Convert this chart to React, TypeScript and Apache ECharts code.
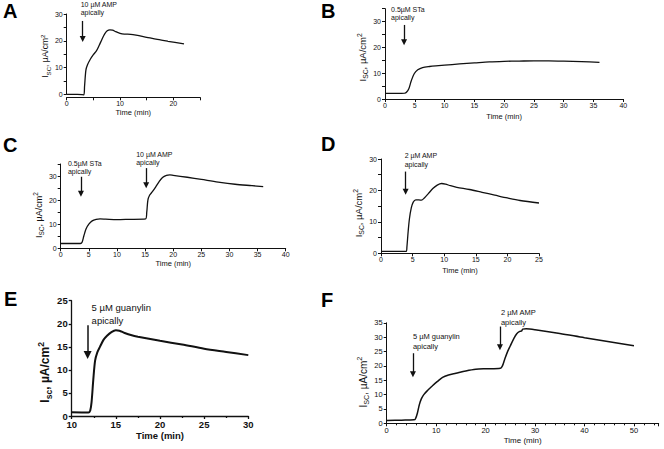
import React, { useEffect, useRef } from 'react';
import * as echarts from 'echarts';

// ---------- data (time in min, Isc in µA/cm²) ----------
const tA = [0, 2, 3.2, 3.35, 3.6, 3.9, 4.4, 5, 5.6, 6.1, 6.6, 7.1, 7.6, 8.1, 8.6, 9.2, 10, 10.8, 12, 13, 15, 17, 19, 22];
const iA = [0, 0, -0.2, 3, 9, 11, 13, 14.8, 16.3, 18.3, 20.5, 22.5, 23.7, 24.1, 24, 23.4, 22.8, 22.5, 22.4, 22.1, 21.3, 20.5, 19.8, 18.8];

const tB = [0, 2, 3.3, 3.6, 4, 4.4, 4.9, 5.5, 6.3, 7.5, 9, 10, 12.5, 15, 17.5, 20, 22.5, 25, 27.5, 30, 33, 36];
const iB = [2.2, 2.2, 2.3, 2.6, 4, 7, 9.8, 11.3, 12.2, 12.6, 12.9, 13.1, 13.6, 14, 14.4, 14.6, 14.7, 14.8, 14.8, 14.7, 14.5, 14.2];

const tC = [0, 3.5, 3.8, 4.1, 4.5, 5, 5.6, 6.3, 7, 8, 10, 12, 15.1, 15.3, 15.5, 15.8, 16.3, 16.9, 17.5, 18.1, 18.8, 19.4, 20, 22.5, 25, 28, 31, 34, 36];
const iC = [2, 2, 2.5, 5, 8, 10, 11.4, 12, 12.2, 12.1, 11.9, 12, 12.2, 15, 20, 22, 23.5, 25.5, 27.7, 29.4, 30.3, 30.5, 30.3, 29.5, 28.6, 27.5, 26.6, 26, 25.6];

const tD = [0, 3, 4, 4.1, 4.3, 4.5, 4.8, 5.1, 5.5, 6, 6.4, 6.9, 7.5, 8.2, 8.9, 9.6, 10.2, 11, 12, 14, 16, 18, 20, 22, 25];
const iD = [0.6, 0.6, 0.6, 2, 7, 11, 14.5, 16.3, 17, 17, 16.9, 17.7, 19, 20.6, 21.7, 22.2, 22, 21.5, 21, 20.3, 19.4, 18.5, 17.6, 16.8, 16];

const tE = [10, 11.9, 12.1, 12.25, 12.45, 12.65, 12.9, 13.2, 13.6, 14, 14.5, 15, 15.4, 16, 16.8, 17.5, 20, 22.5, 25, 27.5, 30];
const iE = [0.8, 0.75, 1.2, 3, 8, 12, 13.8, 15, 16.5, 17.4, 18.2, 18.6, 18.5, 18, 17.5, 17.2, 16.3, 15.5, 14.6, 13.9, 13.2];

const tF = [0, 3, 5.5, 5.8, 6.2, 6.6, 7, 7.5, 8.3, 9.2, 10.2, 11.3, 12.5, 14, 16, 18, 20, 23, 23.4, 23.8, 24.4, 25, 25.7, 26.3, 26.9, 27.3, 27.5, 28.2, 30, 35, 40, 45, 50];
const iF = [1, 1.1, 1.2, 1.5, 3.5, 6.5, 8.5, 10, 11.5, 13, 14.5, 16, 16.8, 17.4, 18.2, 18.8, 19, 19.2, 20, 22, 24.8, 27, 29.5, 31.2, 32, 32.2, 32.8, 32.9, 32.6, 31.3, 29.8, 28.4, 27];

// arrows: time of addition, arrow start / end value, label text
const notesA = [{ t: 3, top: 27.4, end: 20.7, text: '10 µM AMP\napically' }];
const notesB = [{ t: 3.2, top: 28.7, end: 22, text: '0.5µM STa\napically' }];
const notesC = [
  { t: 3.6, top: 29.7, end: 22.6, text: '0.5µM STa\napically' },
  { t: 15.2, top: 33.3, end: 26.2, text: '10 µM AMP\napically' },
];
const notesD = [{ t: 3.9, top: 26, end: 19.6, text: '2 µM AMP\napically' }];
const notesE = [{ t: 11.8, top: 19.7, end: 13.2, text: '5 µM guanylin\napically' }];
const notesF = [
  { t: 5.3, top: 24.4, end: 17.1, text: '5 µM guanylin\napically' },
  { t: 22.9, top: 33.7, end: 26.5, text: '2 µM AMP\napically' },
];

// ---------- layout / styles ----------
const SANS = "'Liberation Sans', Arial, sans-serif";
const NARROW = "'Liberation Sans Narrow', 'Liberation Sans', Arial, sans-serif";
const INK = '#111';

const styles: any = {
  small: { tick: 7, xname: 7.5, bold: 'normal', line: 1.3, axis: 1, note: 7, noteLH: 8.5, noteFont: NARROW, arrow: 6 },
  mid: { tick: 7.5, xname: 8, bold: 'normal', line: 1.5, axis: 1, note: 7.5, noteLH: 10, noteFont: NARROW, arrow: 6 },
  big: { tick: 9.5, xname: 9.5, bold: 'bold', line: 2, axis: 1.3, note: 9.5, noteLH: 13, noteFont: SANS, arrow: 8 },
};

const panels: any[] = [
  { t: tA, v: iA, notes: notesA, offs: [[-2, -4]], st: 'small', sub: 'SC',
    grid: { left: 66.7, top: 14, width: 133.3, height: 80.3 },
    x: { min: 0, max: 25, interval: 5, every: 10 }, y: { min: 0, max: 30, interval: 5, every: 10 },
    xOffset: 3, xGap: 10, yName: 8.5, yGap: 11.3, yShift: 2 },
  { t: tB, v: iB, notes: notesB, offs: [[-13, -3]], st: 'small', sub: 'SC',
    grid: { left: 385, top: 8.7, width: 238.3, height: 90.3 },
    x: { min: 0, max: 40, interval: 5, every: 5 }, y: { min: 0, max: 35, interval: 5, every: 10 },
    xOffset: 0, xGap: 13, yName: 9.5, yGap: 12, yShift: 3.5 },
  { t: tC, v: iC, notes: notesC, offs: [[-13, -1], [-10, -1]], st: 'small', sub: 'SC',
    grid: { left: 60.7, top: 164, width: 225, height: 84.3 },
    x: { min: 0, max: 40, interval: 5, every: 5 }, y: { min: 0, max: 35, interval: 5, every: 10 },
    xOffset: 0, xGap: 11, yName: 9, yGap: 9.5, yShift: 9 },
  { t: tD, v: iD, notes: notesD, offs: [[-1, -3]], st: 'small', sub: 'SC',
    grid: { left: 381, top: 159, width: 158, height: 94.3 },
    x: { min: 0, max: 25, interval: 5, every: 5 }, y: { min: 0, max: 30, interval: 5, every: 10 },
    xOffset: 0, xGap: 13, yName: 9.5, yGap: 12.3, yShift: 7 },
  { t: tE, v: iE, notes: notesE, offs: [[4, 2]], st: 'big', sub: 'sc',
    grid: { left: 71.7, top: 300.7, width: 176.6, height: 115.3 },
    x: { min: 10, max: 30, interval: 5, every: 5, minor: 2 }, y: { min: 0, max: 25, interval: 5, every: 5 },
    xOffset: 0, xGap: 14, yName: 12, yGap: 14.3, yShift: 14 },
  { t: tF, v: iF, notes: notesF, offs: [[0, -2], [1, 1]], st: 'mid', sub: 'SC',
    grid: { left: 386.7, top: 322.8, width: 272, height: 100.5 },
    x: { min: 0, max: 55, interval: 10, every: 10, minor: 5, hideMax: true }, y: { min: 0, max: 35, interval: 5, every: 5 },
    xOffset: 0, xGap: 13.5, yName: 10, yGap: 14.7, yShift: 9 },
];

const letters = [
  { text: 'A', x: 3, y: 1 },
  { text: 'B', x: 321, y: 1 },
  { text: 'C', x: 3, y: 135 },
  { text: 'D', x: 321, y: 134 },
  { text: 'E', x: 4, y: 289 },
  { text: 'F', x: 321, y: 290 },
];

function buildOption() {
  const grid: any[] = [];
  const xAxis: any[] = [];
  const yAxis: any[] = [];
  const series: any[] = [];

  panels.forEach((p, i) => {
    const s = styles[p.st];
    const nm = p.yName;
    const sb = Math.round(nm * 0.72 * 10) / 10;
    const lh = nm * 1.4;
    grid.push({ ...p.grid, containLabel: false, outerBoundsMode: 'none' });
    const axisLine = { show: true, onZero: false, lineStyle: { color: INK, width: s.axis } };
    const axisTick = { show: true, length: 3, lineStyle: { color: INK, width: s.axis } };
    const lbl = (every: number) => (v: number) => (Math.abs(v % every) < 1e-9 ? String(v) : '');
    xAxis.push({
      type: 'value', gridIndex: i, min: p.x.min, max: p.x.max, interval: p.x.interval,
      offset: p.xOffset, axisLine, axisTick,
      minorTick: p.x.minor ? { show: true, splitNumber: p.x.minor, length: 2, lineStyle: { color: INK, width: s.axis } } : { show: false },
      splitLine: { show: false },
      axisLabel: { fontSize: s.tick, fontWeight: s.bold, color: INK, fontFamily: SANS, margin: 3,
        formatter: lbl(p.x.every), showMaxLabel: p.x.hideMax ? false : null },
      name: 'Time (min)', nameLocation: 'middle', nameGap: p.xGap,
      nameTextStyle: { fontSize: s.xname, fontWeight: s.bold, color: INK, fontFamily: SANS },
    });
    yAxis.push({
      type: 'value', gridIndex: i, min: p.y.min, max: p.y.max, interval: p.y.interval,
      axisLine, axisTick, splitLine: { show: false },
      axisLabel: { fontSize: s.tick, fontWeight: s.bold, color: INK, fontFamily: SANS, margin: 4, formatter: lbl(p.y.every) },
      name: `{m|I}{s|${p.sub}}{m|, µA/cm}{p|2}`,
      nameLocation: 'middle', nameGap: p.yGap,
      nameTextStyle: {
        color: INK, fontFamily: SANS, fontWeight: s.bold, fontSize: nm,
        padding: [0, p.yShift * 2, 0, 0],
        rich: {
          m: { fontSize: nm, fontWeight: s.bold, fontFamily: SANS, color: INK, lineHeight: lh },
          s: { fontSize: sb, fontWeight: s.bold, fontFamily: SANS, color: INK, lineHeight: sb + 1, verticalAlign: 'bottom' },
          p: { fontSize: sb, fontWeight: s.bold, fontFamily: SANS, color: INK, lineHeight: sb + 1, verticalAlign: 'top' },
        },
      },
    });
    series.push({
      type: 'line', xAxisIndex: i, yAxisIndex: i,
      data: p.t.map((t: number, k: number) => [t, p.v[k]]),
      showSymbol: false, symbol: 'none', smooth: 0.3, clip: false,
      lineStyle: { color: INK, width: s.line },
      silent: true,
      markLine: {
        silent: true, symbol: ['none', 'triangle'], symbolSize: s.arrow,
        lineStyle: { color: INK, width: p.st === 'big' ? 1.5 : 1.3, type: 'solid' },
        itemStyle: { color: INK },
        label: { show: false },
        data: p.notes.map((n: any) => [{ coord: [n.t, n.top] }, { coord: [n.t, n.end] }]),
      },
      markPoint: {
        silent: true, symbol: 'circle', symbolSize: 0,
        itemStyle: { color: 'transparent' },
        data: p.notes.map((n: any, k: number) => ({
          coord: [n.t, n.top],
          label: {
            show: true, formatter: n.text, position: p.offs[k], align: 'left', verticalAlign: 'bottom',
            fontSize: s.note, lineHeight: s.noteLH, color: INK, fontFamily: s.noteFont,
          },
        })),
      },
    });
  });

  return {
    animation: false,
    backgroundColor: '#fff',
    textStyle: { fontFamily: SANS },
    grid, xAxis, yAxis, series,
    graphic: letters.map((l) => ({
      type: 'text', x: l.x, y: l.y, silent: true,
      style: { text: l.text, fontSize: 20, fontWeight: 'bold', fontFamily: SANS, fill: '#000', verticalAlign: 'top', align: 'left' },
    })),
  };
}

export default function App() {
  const ref = useRef<HTMLDivElement>(null);
  useEffect(() => {
    const chart = echarts.init(ref.current as HTMLDivElement, null, { renderer: 'svg' });
    chart.setOption(buildOption() as any);
    return () => chart.dispose();
  }, []);
  return (
    <div
      ref={ref}
      style={{ position: 'fixed', left: 0, top: 0, width: 664, height: 449, background: '#fff' }}
    />
  );
}
